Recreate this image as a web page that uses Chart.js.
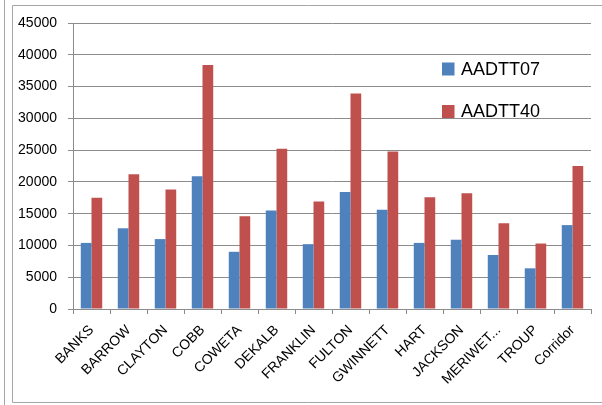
<!DOCTYPE html>
<html>
<head>
<meta charset="utf-8">
<script src="https://cdn.jsdelivr.net/npm/chart.js@4.4.1/dist/chart.umd.min.js"></script>
<style>
  html, body { margin: 0; padding: 0; background: #fff; }
  #wrap { width: 602px; height: 405px; position: relative; }
</style>
</head>
<body>
<div id="wrap"><canvas id="c" width="602" height="405"></canvas></div>
<script>
// Truck traffic by county: 2007 counts vs 2040 forecast
const counties = ['BANKS', 'BARROW', 'CLAYTON', 'COBB', 'COWETA', 'DEKALB', 'FRANKLIN',
  'FULTON', 'GWINNETT', 'HART', 'JACKSON', 'MERIWET...', 'TROUP', 'Corridor'];
const aadtt07 = [10400, 12700, 11000, 20900, 9000, 15500, 10200, 18400, 15600, 10400, 10900, 8500, 6400, 13200];
const aadtt40 = [17500, 21200, 18800, 38400, 14600, 25200, 16900, 33900, 24800, 17600, 18200, 13500, 10300, 22500];
const yTicks = [0, 5000, 10000, 15000, 20000, 25000, 30000, 35000, 40000, 45000];

const FONT = '"Liberation Sans", Arial, sans-serif';
const GRID = '#8c8c8c';

// Frame lines around the chart plus a white background
const framePlugin = {
  id: 'frame',
  beforeDraw(chart) {
    const ctx = chart.ctx;
    ctx.save();
    ctx.fillStyle = '#fff';
    ctx.fillRect(0, 0, chart.width, chart.height);
    ctx.strokeStyle = '#a6a6a6';
    ctx.lineWidth = 1;
    ctx.beginPath();
    ctx.moveTo(4.5, 0); ctx.lineTo(4.5, 405);
    ctx.moveTo(602, 5.5); ctx.lineTo(12.5, 5.5); ctx.lineTo(12.5, 402.5); ctx.lineTo(602, 402.5);
    ctx.stroke();
    ctx.restore();
  }
};

// Legend drawn inside the plot area, upper right
const insideLegend = {
  id: 'insideLegend',
  afterDatasetsDraw(chart) {
    const ctx = chart.ctx;
    ctx.save();
    ctx.font = '18px ' + FONT;
    ctx.textBaseline = 'middle';
    ctx.textAlign = 'left';
    chart.data.datasets.forEach((ds, i) => {
      const cy = 69 + i * 42.5;
      ctx.fillStyle = ds.backgroundColor;
      ctx.fillRect(442, cy - 6.5, 12.5, 13);
      ctx.fillStyle = '#000';
      ctx.fillText(ds.label, 461, cy + 1);
    });
    ctx.restore();
  }
};

new Chart(document.getElementById('c'), {
  type: 'bar',
  data: {
    labels: counties,
    datasets: [
      { label: 'AADTT07', data: aadtt07, backgroundColor: '#4F81BD', borderWidth: 0 },
      { label: 'AADTT40', data: aadtt40, backgroundColor: '#C0504D', borderWidth: 0 }
    ]
  },
  options: {
    responsive: false,
    animation: false,
    devicePixelRatio: 1,
    layout: { padding: { left: 13, right: 11, top: 23, bottom: 0 } },
    datasets: { bar: { categoryPercentage: 0.58, barPercentage: 1.0 } },
    plugins: {
      legend: { display: false },
      tooltip: { enabled: false }
    },
    scales: {
      x: {
        offset: true,
        grid: {
          offset: true,
          drawOnChartArea: false,
          drawTicks: true,
          tickLength: 5,
          color: GRID
        },
        border: { color: GRID, width: 1 },
        ticks: {
          color: '#000',
          font: { family: FONT, size: 14 },
          minRotation: 45,
          maxRotation: 45,
          autoSkip: false,
          padding: 8
        },
        afterFit(scale) { scale.height = 96; }
      },
      y: {
        min: 0,
        max: 45000,
        afterBuildTicks(scale) { scale.ticks = yTicks.map(v => ({ value: v })); },
        grid: { color: GRID, tickLength: 5, lineWidth: 1 },
        border: { color: GRID, width: 1 },
        ticks: {
          color: '#000',
          font: { family: FONT, size: 14 },
          padding: 11,
          callback: v => String(v)
        },
        afterFit(scale) { scale.width = 60; }
      }
    }
  },
  plugins: [framePlugin, insideLegend]
});
</script>
</body>
</html>
